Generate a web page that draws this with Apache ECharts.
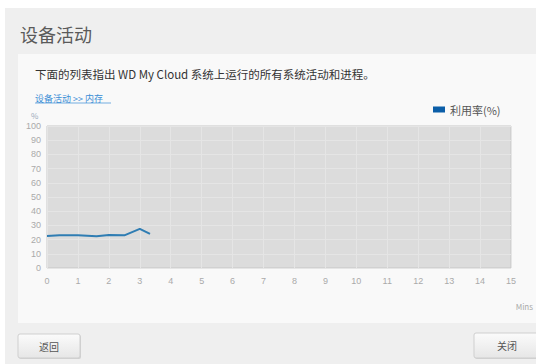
<!DOCTYPE html>
<html>
<head>
<meta charset="utf-8">
<script src="https://cdn.jsdelivr.net/npm/echarts@6/dist/echarts.min.js"></script>
<style>
html,body{margin:0;padding:0;background:#fff;}
#c{width:536px;height:364px;}
</style>
</head>
<body>
<div id="c"></div>
<script>
// Data
const minutes = [0, 0.4, 1, 1.6, 2, 2.5, 3, 3.33];
const usage = [22.6, 23.1, 23, 22.3, 23.2, 23, 27.6, 24];
const seriesName = '利用率(%)';
const xTicks = [0,1,2,3,4,5,6,7,8,9,10,11,12,13,14,15];
const yTicks = [0,10,20,30,40,50,60,70,80,90,100];
const titleText = '设备活动';
const descText = '下面的列表指出 WD My Cloud 系统上运行的所有系统活动和进程。';
const linkText = '设备活动 >> 内存';
const backText = '返回';
const closeText = '关闭';

const FONT = '"Noto Sans CJK SC", "Liberation Sans", sans-serif';
const chart = echarts.init(document.getElementById('c'), null, {renderer: 'svg'});

function button(x, y, w, h, label) {
  return {
    type: 'group', children: [
      {type: 'rect', shape: {x: x + 1, y: y + 1, width: w, height: h, r: 2}, style: {fill: '#d0d0d0'}},
      {type: 'rect', shape: {x: x, y: y, width: w, height: h, r: 2},
       style: {fill: new echarts.graphic.LinearGradient(0, 0, 0, 1, [{offset: 0, color: '#fbfbfb'}, {offset: 1, color: '#e6e6e6'}]),
               stroke: '#cfcfcf', lineWidth: 1}},
      {type: 'text', style: {x: x + w / 2, y: y + h / 2, text: label, align: 'center', verticalAlign: 'middle',
        font: '10px ' + FONT, fill: '#555'}}
    ]
  };
}

chart.setOption({
  animation: false,
  backgroundColor: '#ffffff',
  graphic: [
    {type: 'rect', z: -10, shape: {x: 5, y: 8, width: 531, height: 356}, style: {fill: '#efefef'}},
    {type: 'rect', z: -9, shape: {x: 18, y: 54, width: 518, height: 269}, style: {fill: '#f9f9f9'}},
    {type: 'text', style: {x: 20, y: 34, text: titleText, verticalAlign: 'middle', font: '18px ' + FONT, fill: '#5a5a5a'}},
    {type: 'text', style: {x: 35, y: 73.5, text: descText, verticalAlign: 'middle', font: '11.5px ' + FONT, fill: '#333'}},
    {type: 'text', style: {x: 35, y: 98, text: linkText, verticalAlign: 'middle', font: '9px ' + FONT, fill: '#3b8ed6'}},
    {type: 'line', shape: {x1: 35, y1: 103, x2: 111, y2: 103}, style: {stroke: '#3b8ed6', lineWidth: 0.7}},
    {type: 'text', style: {x: 31, y: 115, text: '%', verticalAlign: 'middle', font: '8px ' + FONT, fill: '#9aaabb'}},
    {type: 'text', style: {x: 533, y: 306, text: 'Mins', align: 'right', verticalAlign: 'middle', font: '8px ' + FONT, fill: '#aaa'}},
    button(18, 334, 62, 24, backText),
    button(474, 333, 66, 25, closeText)
  ],
  legend: {
    left: 433, top: 104, padding: 0,
    itemWidth: 12, itemHeight: 6, itemGap: 6,
    icon: 'rect',
    textStyle: {fontSize: 11, color: '#555', fontFamily: FONT},
    data: [{name: seriesName, itemStyle: {color: '#0b5ea8'}}]
  },
  grid: {
    left: 47, right: 25, top: 126, bottom: 96,
    show: true, backgroundColor: '#dcdcdc', borderColor: '#c6c6c6', borderWidth: 1
  },
  xAxis: {
    type: 'value', min: 0, max: 15, interval: 1,
    axisLine: {show: false}, axisTick: {show: false},
    axisLabel: {color: '#aaa', fontSize: 9, margin: 8, fontFamily: '"Liberation Sans", sans-serif',
      formatter: v => xTicks.includes(v) ? String(v) : ''},
    splitLine: {show: true, lineStyle: {color: '#e5e5e5', width: 1}}
  },
  yAxis: {
    type: 'value', min: 0, max: 100, interval: 10,
    axisLine: {show: false}, axisTick: {show: false},
    axisLabel: {color: '#aaa', fontSize: 9, margin: 6, fontFamily: '"Liberation Sans", sans-serif',
      formatter: v => yTicks.includes(v) ? String(v) : ''},
    splitLine: {show: true, lineStyle: {color: '#e5e5e5', width: 1}}
  },
  series: [{
    name: seriesName,
    type: 'line',
    data: minutes.map((m, i) => [m, usage[i]]),
    showSymbol: false,
    symbol: 'none',
    lineStyle: {color: '#2f7db3', width: 2},
    itemStyle: {color: '#0b5ea8'}
  }]
});
</script>
</body>
</html>
